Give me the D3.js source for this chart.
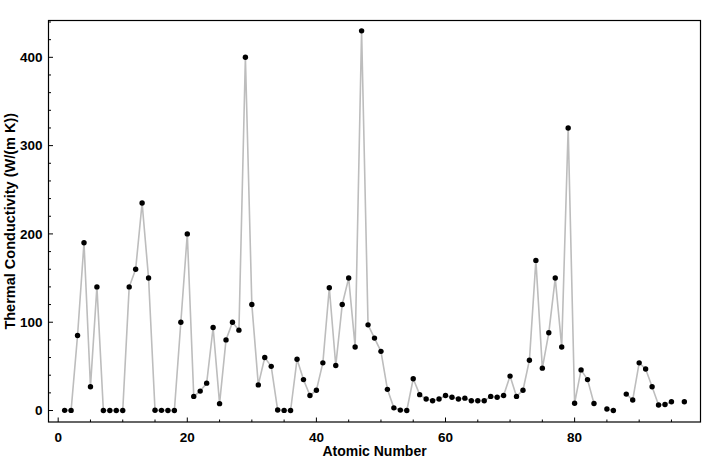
<!DOCTYPE html>
<html><head><meta charset="utf-8">
<script src="https://cdn.jsdelivr.net/npm/d3@7"></script>
<style>body{margin:0;background:#fff}svg{display:block}</style>
</head><body>
<svg id="c" width="720" height="461"></svg>
<script>
const atomicNumbers = d3.range(1, 98);
const conductivity = [
 0.1805,0.1513,85,190,27,140,0.02583,0.02658,0.0277,0.0491,
 140,160,235,150,0.236,0.205,0.0089,0.01772,100,200,
 16,22,31,94,7.8,80,100,91,400,120,
 29,60,50,0.52,0.12,0.00943,58,35,17,23,
 54,139,51,120,150,72,430,97,82,67,
 24,3,0.449,0.00565,36,18,13,11,13,17,
 15,13,14,11,11,11,16,15,17,39,
 16,23,57,170,48,88,150,72,320,8.3,
 46,35,8,null,1.7,0.00361,null,18.6,12,54,
 47,27,6.3,6.74,10,null,10
];
const xTicks = [0,20,40,60,80];
const yTicks = [0,100,200,300,400];
const xLabel = "Atomic Number";
const yLabel = "Thermal Conductivity (W/(m K))";

const data = atomicNumbers.map((z,i)=>({z, v: conductivity[i]}));
const svg = d3.select("#c");
const L=48.5, R=700.5, T=20.5, B=422;
const x = d3.scaleLinear().domain([-1.5,99.5]).range([L,R]);
const y = d3.scaleLinear().domain([-13,441.7]).range([B,T]);

// frame
svg.append("rect").attr("x",L).attr("y",T).attr("width",R-L).attr("height",B-T)
  .attr("fill","none").attr("stroke","#000").attr("stroke-width",1.2);

const font = "'Liberation Sans', Arial, Helvetica, sans-serif";
// x axis
const gx = svg.append("g").attr("transform",`translate(0,${B})`);
d3.range(0,100,5).forEach(t=>{
  const major = xTicks.includes(t);
  gx.append("line").attr("x1",x(t)).attr("x2",x(t)).attr("y1",0).attr("y2",major?-4.5:-2.5)
    .attr("stroke","#000").attr("stroke-width",1);
});
xTicks.forEach(t=>{
  gx.append("text").attr("x",x(t)).attr("y",20).attr("text-anchor","middle").attr("fill","#000")
    .attr("font-family",font).attr("font-weight","bold").attr("font-size",13.5).text(t);
});
// y axis
const gy = svg.append("g").attr("transform",`translate(${L},0)`);
d3.range(0,441,20).forEach(t=>{
  const major = yTicks.includes(t);
  gy.append("line").attr("x1",0).attr("x2",major?4.5:2.5).attr("y1",y(t)).attr("y2",y(t))
    .attr("stroke","#000").attr("stroke-width",1);
});
yTicks.forEach(t=>{
  gy.append("text").attr("x",-6).attr("y",y(t)).attr("dy","0.35em").attr("text-anchor","end").attr("fill","#000")
    .attr("font-family",font).attr("font-weight","bold").attr("font-size",13.5).text(t);
});

// line
const line = d3.line().defined(d=>d.v!==null).x(d=>x(d.z)).y(d=>y(d.v));
svg.append("path").datum(data).attr("d",line).attr("fill","none")
  .attr("stroke","#bdbdbd").attr("stroke-width",1.6).attr("stroke-linejoin","round");
svg.append("g").selectAll("circle").data(data.filter(d=>d.v!==null)).join("circle")
  .attr("cx",d=>x(d.z)).attr("cy",d=>y(d.v)).attr("r",2.7).attr("fill","#000");

// labels
svg.append("text").attr("x",(L+R)/2).attr("y",456).attr("text-anchor","middle")
  .attr("font-family",font).attr("font-weight","bold").attr("font-size",14).text(xLabel);
svg.append("text").attr("transform",`translate(15,${(T+B)/2}) rotate(-90)`).attr("text-anchor","middle")
  .attr("font-family",font).attr("font-weight","bold").attr("font-size",14.5).text(yLabel);
</script>
</body></html>
